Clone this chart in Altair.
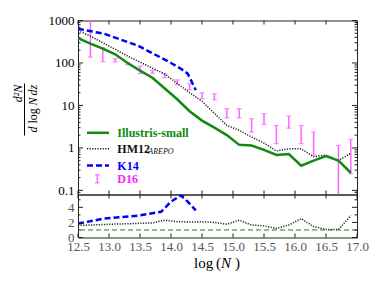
import altair as alt
import pandas as pd

# ---------------- data ----------------
X = [12.5, 12.7, 12.9, 13.1, 13.3, 13.5, 13.7, 13.9, 14.1, 14.3, 14.5, 14.7,
     14.9, 15.1, 15.3, 15.5, 15.7, 15.9, 16.1, 16.3, 16.5, 16.7, 16.9]
ILLUSTRIS = [384, 285, 218, 160, 100, 66, 45, 25, 14, 7.3, 4.4, 3.0,
             2.0, 1.18, 1.14, 0.9, 0.68, 0.72, 0.38, 0.5, 0.64, 0.5, 0.26]
HM12 = [580, 430, 300, 210, 145, 105, 75, 55, 33, 20, 12.5, 6.5,
        3.4, 2.6, 1.8, 1.3, 0.85, 0.95, 0.95, 0.62, 0.68, 0.5, 0.75]
RATIO_HM12 = [1.6, 1.65, 1.72, 1.78, 1.82, 1.88, 1.93, 2.3, 2.1, 2.05, 2.08, 2.0,
              1.75, 2.3, 1.65, 1.55, 1.2, 1.65, 2.5, 1.45, 1.07, 1.05, 2.9]

K14_X = [12.5, 12.92, 13.46, 13.84, 14.0, 14.16, 14.27, 14.4]
K14 = [640, 487, 258, 133, 100, 73, 56, 23]
RATIO_K14 = [1.85, 2.5, 2.9, 3.4, 4.75, 5.6, 4.75, 3.6]

D16_X = [12.7, 12.9, 13.1, 13.3, 13.5, 13.7, 13.9, 14.1, 14.3, 14.5, 14.7,
         14.9, 15.1, 15.3, 15.5, 15.7, 15.9, 16.1, 16.3, 16.7, 16.9]
D16_LO = [137, 108, 106, 91, 56, 57, 45, 31, 23.4, 14.4, 13.6,
          5.1, 5.1, 2.36, 3.57, 1.26, 2.92, 1.26, 0.67, 0.05, 0.247]
D16_HI = [1500, 228, 126, 103, 84, 67, 55, 40, 32.4, 19.9, 18.8,
          8.4, 8.4, 4.86, 6.4, 3.38, 5.6, 3.38, 2.36, 1.15, 1.58]

X_TICKS = [12.5, 13.0, 13.5, 14.0, 14.5, 15.0, 15.5, 16.0, 16.5, 17.0]
Y_MAJOR = [0.1, 1, 10, 100, 1000]
Y_MINOR = [0.09, 0.2, 0.3, 0.4, 0.5, 0.6, 0.7, 0.8, 0.9,
           2, 3, 4, 5, 6, 7, 8, 9, 20, 30, 40, 50, 60, 70, 80, 90,
           200, 300, 400, 500, 600, 700, 800, 900]
R_MAJOR = [0, 2, 4]
R_MINOR = [1, 3, 5]
LEGEND = ["Illustris-small", "HM12", "AREPO", "K14", "D16"]

# ---------------- styling ----------------
FONT = "Liberation Serif"
W, H1, H2 = 279, 174, 43
YMIN, YMAX = 0.08, 1000
GREEN, BLUE, PINK, PINKTXT = "#108a10", "#0000ff", "#ff66ff", "#ff22ff"
FRAME = "#222222"

xscale = alt.Scale(domain=[12.5, 17.0], nice=False, zero=False)
yscale_top = alt.Scale(type="log", domain=[YMIN, YMAX], nice=False)
yscale_bot = alt.Scale(domain=[0, 5.7], nice=False, zero=False)

ax_top = alt.Axis(values=Y_MAJOR, format="~g", ticks=False, tickSize=0, domain=False,
                  grid=False, labelFont=FONT, labelFontSize=13, labelColor="#000",
                  labelPadding=4, title=None)
ax_bot = alt.Axis(values=R_MAJOR, format="d", ticks=False, tickSize=0, domain=False,
                  grid=False, labelFont=FONT, labelFontSize=13, labelColor="#555",
                  labelPadding=4, title=None)
ax_x = alt.Axis(values=X_TICKS, format=".1f", ticks=False, tickSize=0, domain=False,
                grid=False, labelFont=FONT, labelFontSize=13, labelColor="#555",
                labelPadding=3, title=None, labelFlush=False)

ONE = pd.DataFrame({"k": [0]})


def xt(field="x"):
    return alt.X(f"{field}:Q", scale=xscale, axis=None)


def xbt(field="x"):
    return alt.X(f"{field}:Q", scale=xscale, axis=ax_x)


def yt(field="y"):
    return alt.Y(f"{field}:Q", scale=yscale_top, axis=ax_top)


def yb(field="y"):
    return alt.Y(f"{field}:Q", scale=yscale_bot, axis=ax_bot)


def text(s, x, y, **kw):
    props = dict(text=s, align="left", baseline="middle", font=FONT, fontSize=12)
    props.update(kw)
    return alt.Chart(ONE).mark_text(**props).encode(x=alt.value(x), y=alt.value(y))


# ---------------- top panel ----------------
df_ill = pd.DataFrame({"x": X, "y": ILLUSTRIS})
df_hm = pd.DataFrame({"x": X, "y": HM12})
df_k = pd.DataFrame({"x": K14_X, "y": K14})
df_d = pd.DataFrame({"x": D16_X, "lo": D16_LO, "hi": D16_HI})

l_ill = alt.Chart(df_ill).mark_line(color=GREEN, strokeWidth=2.5, clip=True).encode(x=xt(), y=yt())
l_hm = alt.Chart(df_hm).mark_line(color="#222", strokeWidth=1.5, strokeDash=[1.2, 1.4], clip=True).encode(x=xt(), y=yt())
l_k = alt.Chart(df_k).mark_line(color=BLUE, strokeWidth=2.5, strokeDash=[6, 3], clip=True).encode(x=xt(), y=yt())

# error bars: the parts that run out of the panel are cut at its edges
eb = alt.Chart(df_d).transform_calculate(
    lo_c=f"max(datum.lo, {YMIN})", hi_c=f"min(datum.hi, {YMAX})"
).mark_rule(color=PINK, strokeWidth=1.5).encode(x=xt(), y=yt("lo_c"), y2="hi_c:Q")
cap_lo = alt.Chart(df_d).transform_filter(f"datum.lo >= {YMIN}").mark_tick(
    color=PINK, orient="horizontal", size=5, thickness=1.3).encode(x=xt(), y=yt("lo"))
cap_hi = alt.Chart(df_d).transform_filter(f"datum.hi <= {YMAX}").mark_tick(
    color=PINK, orient="horizontal", size=5, thickness=1.3).encode(x=xt(), y=yt("hi"))

dxt = pd.DataFrame({"v": X_TICKS})
dymaj = pd.DataFrame({"v": Y_MAJOR})
dymin = pd.DataFrame({"v": Y_MINOR})


def xticks(h, xf):
    return [
        alt.Chart(dxt).mark_rule(color=FRAME, strokeWidth=1).encode(x=xf("v"), y=alt.value(0), y2=alt.value(4)),
        alt.Chart(dxt).mark_rule(color=FRAME, strokeWidth=1).encode(x=xf("v"), y=alt.value(h), y2=alt.value(h - 4)),
    ]


def yticks(df, enc, length):
    return [
        alt.Chart(df).mark_rule(color=FRAME, strokeWidth=1).encode(y=enc, x=alt.value(0), x2=alt.value(length)),
        alt.Chart(df).mark_rule(color=FRAME, strokeWidth=1).encode(y=enc, x=alt.value(W), x2=alt.value(W - length)),
    ]


# legend (inside the plot, lower left)
lx1, lx2, tx = 9, 31, 39.3
rows = [112.3, 128.3, 145, 158.3]
legend = [
    alt.Chart(ONE).mark_rule(color=GREEN, strokeWidth=2.5).encode(x=alt.value(lx1), x2=alt.value(lx2), y=alt.value(rows[0])),
    alt.Chart(ONE).mark_rule(color="#222", strokeWidth=1.5, strokeDash=[1.2, 1.4]).encode(x=alt.value(lx1), x2=alt.value(lx2), y=alt.value(rows[1])),
    alt.Chart(ONE).mark_rule(color=BLUE, strokeWidth=2.5, strokeDash=[6, 3]).encode(x=alt.value(lx1), x2=alt.value(lx2), y=alt.value(rows[2])),
    alt.Chart(ONE).mark_rule(color=PINK, strokeWidth=1.5).encode(x=alt.value(19.3), y=alt.value(rows[3] - 4), y2=alt.value(rows[3] + 4)),
    alt.Chart(ONE).mark_rule(color=PINK, strokeWidth=1.2).encode(x=alt.value(17), x2=alt.value(21.6), y=alt.value(rows[3] - 4)),
    alt.Chart(ONE).mark_rule(color=PINK, strokeWidth=1.2).encode(x=alt.value(17), x2=alt.value(21.6), y=alt.value(rows[3] + 4)),
    text(LEGEND[0], tx, rows[0], color=GREEN, fontWeight="bold"),
    text(LEGEND[1], tx, rows[1], color="#111", fontWeight="bold"),
    text(LEGEND[2], tx + 31, rows[1] + 3, color="#111", fontSize=8, fontStyle="italic"),
    text(LEGEND[3], tx, rows[2], color=BLUE, fontWeight="bold"),
    text(LEGEND[4], tx, rows[3], color=PINKTXT, fontWeight="bold"),
]

# y-axis title as a fraction
ytitle = [
    text("d\u00b2N", -60, 73, angle=270, align="center", fontStyle="italic", fontSize=12),
    alt.Chart(ONE).mark_rule(color="#000", strokeWidth=1).encode(x=alt.value(-53.5), y=alt.value(63), y2=alt.value(115)),
    text("d", -45, 112, angle=270, align="left", fontStyle="italic"),
    text("log", -45, 103, angle=270, align="left"),
    text("N", -45, 85, angle=270, align="left", fontStyle="italic"),
    text("dz", -45, 75, angle=270, align="left", fontStyle="italic"),
]

top = alt.layer(
    *xticks(H1, xt), *yticks(dymaj, yt("v"), 5), *yticks(dymin, yt("v"), 2.5),
    eb, cap_lo, cap_hi, l_hm, l_k, l_ill, *legend, *ytitle,
).properties(width=W, height=H1)

# ---------------- bottom (ratio) panel ----------------
df_rh = pd.DataFrame({"x": X, "y": RATIO_HM12})
df_rk = pd.DataFrame({"x": K14_X, "y": RATIO_K14})
drmaj = pd.DataFrame({"v": R_MAJOR})
drmin = pd.DataFrame({"v": R_MINOR})

unity = alt.Chart(ONE).mark_rule(color=GREEN, strokeWidth=1, strokeDash=[5, 3]).encode(y=alt.datum(1, scale=yscale_bot, axis=ax_bot))
r_hm = alt.Chart(df_rh).mark_line(color="#222", strokeWidth=1.5, strokeDash=[1.2, 1.4], clip=True).encode(x=xbt(), y=yb())
r_k = alt.Chart(df_rk).mark_line(color=BLUE, strokeWidth=2.5, strokeDash=[6, 3], clip=True).encode(x=xbt(), y=yb())

xtitle = [
    text("log", 116, 73, baseline="alphabetic", fontSize=15),
    text("(", 138, 73, baseline="alphabetic", fontSize=15),
    text("N", 143, 73, baseline="alphabetic", fontSize=15, fontStyle="italic"),
    text(")", 157, 73, baseline="alphabetic", fontSize=15),
]

bot = alt.layer(
    r_hm, r_k, unity,
    *xticks(H2, xbt), *yticks(drmaj, yb("v"), 5), *yticks(drmin, yb("v"), 2.5),
    *xtitle,
).properties(width=W, height=H2)

chart = alt.vconcat(top, bot, spacing=0, bounds="flush").properties(
    padding={"left": 3, "top": 5.5, "right": 5, "bottom": 5}
).configure_view(stroke=FRAME, strokeWidth=1).configure_concat(spacing=0)

chart.save("out.html", embed_options={"renderer": "svg", "actions": False})
